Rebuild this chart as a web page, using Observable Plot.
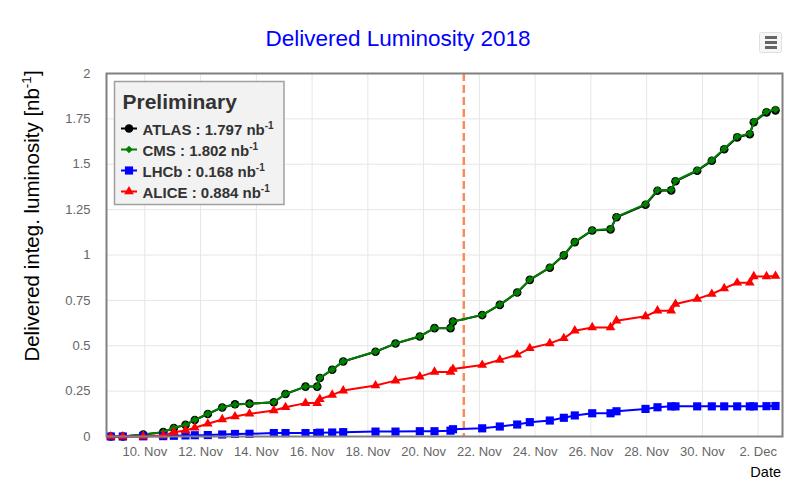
<!DOCTYPE html>
<html>
<head>
<meta charset="utf-8">
<script src="https://cdn.jsdelivr.net/npm/d3@7"></script>
<script src="https://cdn.jsdelivr.net/npm/@observablehq/plot@0.6"></script>
<style>
  html, body { margin: 0; padding: 0; background: #fff; }
  #wrap { position: relative; width: 800px; height: 493px; overflow: hidden; }
  #overlay { position: absolute; left: 0; top: 0; pointer-events: none; }
</style>
</head>
<body>
<div id="wrap"></div>
<script>
// ---- Data ----
const dates = ["2018-11-08T18:44","2018-11-09T05:04","2018-11-09T22:37","2018-11-10T15:50","2018-11-11T01:00","2018-11-11T11:02","2018-11-11T19:02","2018-11-12T06:14","2018-11-12T18:38","2018-11-13T05:38","2018-11-13T18:07","2018-11-14T15:03","2018-11-15T01:07","2018-11-15T18:20","2018-11-16T04:25","2018-11-16T06:39","2018-11-16T17:19","2018-11-17T02:47","2018-11-18T06:36","2018-11-18T23:48","2018-11-19T20:44","2018-11-20T09:23","2018-11-20T23:09","2018-11-21T01:18","2018-11-22T02:26","2018-11-22T17:35","2018-11-23T08:34","2018-11-23T19:25","2018-11-24T12:38","2018-11-25T00:42","2018-11-25T10:09","2018-11-26T01:08","2018-11-26T16:54","2018-11-26T22:03","2018-11-27T23:01","2018-11-28T09:20","2018-11-28T21:08","2018-11-29T00:50","2018-11-29T19:31","2018-11-30T08:05","2018-11-30T18:46","2018-12-01T05:57","2018-12-01T16:48","2018-12-01T20:15","2018-12-02T07:11","2018-12-02T14:56"];
const atlas = [0,0,0.011,0.024,0.047,0.064,0.091,0.124,0.160,0.178,0.181,0.189,0.234,0.275,0.275,0.322,0.368,0.413,0.467,0.512,0.551,0.597,0.597,0.633,0.669,0.725,0.793,0.863,0.930,0.998,1.071,1.135,1.141,1.208,1.277,1.354,1.356,1.406,1.464,1.519,1.583,1.648,1.665,1.731,1.786,1.797];
const cms   = [0,0,0.011,0.024,0.048,0.064,0.092,0.125,0.161,0.176,0.180,0.189,0.235,0.275,0.275,0.323,0.369,0.414,0.468,0.513,0.552,0.598,0.598,0.634,0.670,0.726,0.794,0.864,0.932,1.000,1.073,1.137,1.143,1.210,1.280,1.357,1.359,1.409,1.467,1.522,1.586,1.652,1.669,1.735,1.790,1.802];
const lhcb  = [0,0,0.001,0.002,0.004,0.006,0.007,0.008,0.011,0.014,0.015,0.019,0.019,0.019,0.019,0.021,0.022,0.024,0.027,0.027,0.029,0.029,0.032,0.040,0.045,0.055,0.066,0.079,0.088,0.103,0.116,0.128,0.128,0.139,0.152,0.161,0.166,0.166,0.166,0.166,0.166,0.166,0.166,0.166,0.167,0.168];
const alice = [0,0,0,0.005,0.024,0.033,0.048,0.070,0.094,0.110,0.125,0.143,0.161,0.184,0.184,0.206,0.229,0.253,0.281,0.308,0.330,0.356,0.356,0.372,0.394,0.422,0.450,0.486,0.513,0.541,0.583,0.601,0.601,0.638,0.662,0.693,0.693,0.730,0.758,0.785,0.816,0.847,0.847,0.882,0.882,0.884];

const seriesNames = ["ATLAS", "CMS", "LHCb", "ALICE"];
const seriesTotals = ["1.797", "1.802", "0.168", "0.884"];
const yTicks = [0, 0.25, 0.5, 0.75, 1, 1.25, 1.5, 1.75, 2];
const yTickLabels = ["0", "0.25", "0.5", "0.75", "1", "1.25", "1.5", "1.75", "2"];
const xTickDates = ["2018-11-10","2018-11-12","2018-11-14","2018-11-16","2018-11-18","2018-11-20","2018-11-22","2018-11-24","2018-11-26","2018-11-28","2018-11-30","2018-12-02"];
const xDomain = ["2018-11-08T15:01", "2018-12-02T20:57"];
const markerDate = "2018-11-21T10:36";

// ---- Build ----
const parse = s => new Date(s.length === 10 ? s + "T00:00Z" : s + "Z");
const mk = (vals, name) => vals.map((v, i) => ({date: parse(dates[i]), value: v, series: name}));
const dA = mk(atlas, "ATLAS"), dC = mk(cms, "CMS"), dL = mk(lhcb, "LHCb"), dI = mk(alice, "ALICE");
const xTicks = xTickDates.map(parse);
const fmt = d3.utcFormat("%-d. %b");
const FONT = "'Liberation Sans', Arial, Helvetica, sans-serif";

const chart = Plot.plot({
  width: 800, height: 493,
  marginLeft: 106, marginRight: 18, marginTop: 73, marginBottom: 57,
  style: {fontFamily: FONT, fontSize: "13px", background: "#fff", color: "#666"},
  x: {type: "utc", domain: xDomain.map(parse), axis: null},
  y: {domain: [0, 2], axis: null},
  marks: [
    Plot.gridX(xTicks, {stroke: "#e6e6e6", strokeOpacity: 1, strokeWidth: 1}),
    Plot.gridY(yTicks, {stroke: "#e6e6e6", strokeOpacity: 1, strokeWidth: 1}),
    Plot.axisX(xTicks, {tickSize: 0, tickPadding: 10, tickFormat: fmt, fill: "#666", fontSize: 13, label: null}),
    Plot.axisY(yTicks, {tickSize: 0, tickPadding: 16, tickFormat: (d) => yTickLabels[yTicks.indexOf(d)], fill: "#666", fontSize: 13, label: null}),
    Plot.ruleX([parse(markerDate)], {stroke: "#f98c5a", strokeWidth: 2.5, strokeDasharray: "8,4"}),
    Plot.line(dA, {x: "date", y: "value", stroke: "#000", strokeWidth: 2}),
    Plot.dot(dA, {x: "date", y: "value", r: 4.3, fill: "#000", symbol: "circle"}),
    Plot.line(dC, {x: "date", y: "value", stroke: "#008000", strokeWidth: 2}),
    Plot.dot(dC, {x: "date", y: "value", r: 3.5, fill: "#008000", symbol: "diamond2"}),
    Plot.line(dL, {x: "date", y: "value", stroke: "#0000ff", strokeWidth: 2}),
    Plot.dot(dL, {x: "date", y: "value", r: 4.6, fill: "#0000ff", symbol: "square"}),
    Plot.line(dI, {x: "date", y: "value", stroke: "#ff0000", strokeWidth: 2}),
    Plot.dot(dI, {x: "date", y: "value", r: 3.6, fill: "#ff0000", symbol: "triangle"}),
    Plot.frame({stroke: "#808080", strokeWidth: 2})
  ]
});
const wrap = document.getElementById("wrap");
wrap.appendChild(chart);

// ---- Overlay: title, axis titles, legend, menu button ----
const ov = d3.select(wrap).append("svg").attr("id", "overlay")
  .attr("width", 800).attr("height", 493).style("font-family", FONT);

ov.append("text").attr("x", 398).attr("y", 46).attr("text-anchor", "middle")
  .attr("font-size", 22.5).attr("fill", "#0000ff").text("Delivered Luminosity 2018");

const yl = ov.append("text").attr("transform", "translate(39,216) rotate(-90)")
  .attr("text-anchor", "middle").attr("font-size", 20.5).attr("fill", "#000");
yl.append("tspan").text("Delivered integ. luminosity [nb");
yl.append("tspan").attr("font-size", 13.5).attr("dy", -8).text("-1");
yl.append("tspan").attr("dy", 8).text("]");

ov.append("text").attr("x", 781).attr("y", 477).attr("text-anchor", "end")
  .attr("font-size", 14.5).attr("fill", "#000").text("Date");

// menu button
ov.append("rect").attr("x", 759.5).attr("y", 32.5).attr("width", 22).attr("height", 20).attr("rx", 2)
  .attr("fill", "#f7f7f7").attr("stroke", "#e0e0e0");
[37.5, 42.5, 47.5].forEach(y => ov.append("line").attr("x1", 765).attr("x2", 777).attr("y1", y).attr("y2", y)
  .attr("stroke", "#666").attr("stroke-width", 3));

// legend
const lg = ov.append("g");
lg.append("rect").attr("x", 114.5).attr("y", 81.5).attr("width", 169.5).attr("height", 123)
  .attr("fill", "#f2f2f2").attr("stroke", "#a0a0a0").attr("stroke-width", 1.5);
lg.append("text").attr("x", 122.5).attr("y", 108.5).attr("font-size", 21).attr("font-weight", "bold")
  .attr("fill", "#333").text("Preliminary");
const colors = ["#000", "#008000", "#0000ff", "#ff0000"];
const syms = [d3.symbolCircle, d3.symbolDiamond2, d3.symbolSquare, d3.symbolTriangle];
const sizes = [Math.PI * 4.3 * 4.3, Math.PI * 3.4 * 3.4, Math.PI * 4.6 * 4.6, Math.PI * 3.6 * 3.6];
const baselines = [135, 156, 177, 198];
seriesNames.forEach((name, i) => {
  const by = baselines[i], cy = by - 6.5;
  lg.append("line").attr("x1", 121).attr("x2", 137).attr("y1", cy).attr("y2", cy)
    .attr("stroke", colors[i]).attr("stroke-width", 2);
  lg.append("path").attr("d", d3.symbol(syms[i], sizes[i])()).attr("transform", `translate(129,${cy})`)
    .attr("fill", colors[i]);
  const t = lg.append("text").attr("x", 142.5).attr("y", by).attr("font-size", 15)
    .attr("font-weight", "bold").attr("fill", "#333");
  t.append("tspan").text(`${name} : ${seriesTotals[i]} nb`);
  t.append("tspan").attr("font-size", 10).attr("dy", -6).text("-1");
});
</script>
</body>
</html>
